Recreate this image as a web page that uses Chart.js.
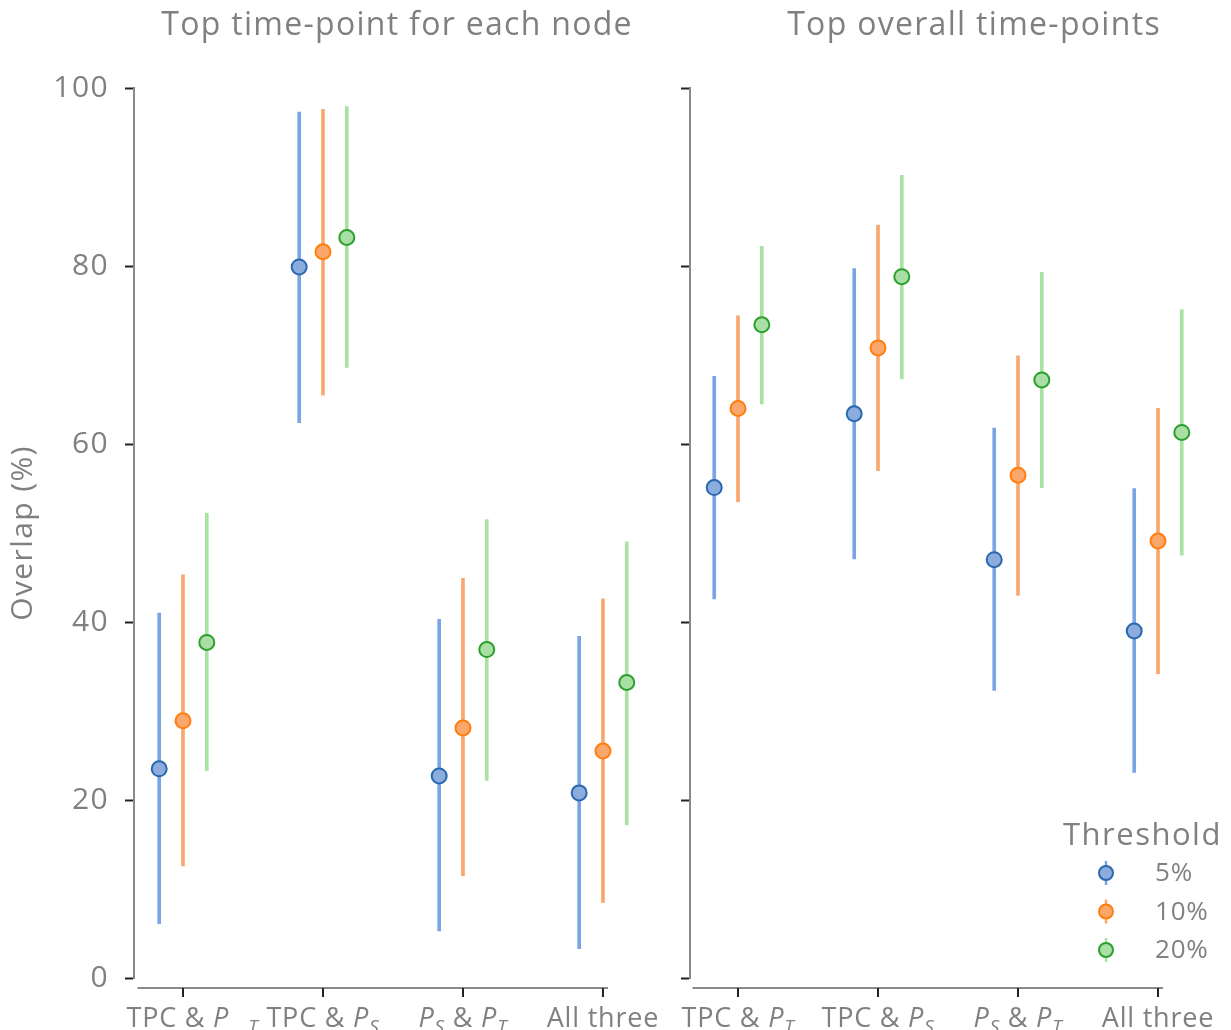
<!DOCTYPE html>
<html>
<head>
<meta charset="utf-8">
<script src="https://cdn.jsdelivr.net/npm/chart.js@4.4.1/dist/chart.umd.min.js"></script>
<style>
  html, body { margin: 0; padding: 0; background: #fff; }
  #wrap { position: relative; width: 1231px; height: 1030px; overflow: hidden; }
  canvas { position: absolute; top: 0; }
  #chartLeft { left: 0; }
  #chartRight { left: 660px; }
</style>
</head>
<body>
<div id="wrap">
  <canvas id="chartLeft" width="660" height="1030"></canvas>
  <canvas id="chartRight" width="571" height="1030"></canvas>
</div>
<script>
// categories ($..$ = math: italic letters, _X = subscript)
const categories = ['TPC & $P_T$', 'TPC & $P_S$', '$P_S$ & $P_T$', 'All three'];
const thresholds = ['5%', '10%', '20%'];

// Top time-point for each node
const leftMean5  = [23.5, 79.9, 22.7, 20.8];
const leftLow5   = [6.1, 62.4, 5.3, 3.3];
const leftHigh5  = [41.0, 97.3, 40.3, 38.4];
const leftMean10 = [28.9, 81.6, 28.1, 25.5];
const leftLow10  = [12.6, 65.5, 11.5, 8.5];
const leftHigh10 = [45.3, 97.6, 44.9, 42.6];
const leftMean20 = [37.7, 83.2, 36.9, 33.2];
const leftLow20  = [23.3, 68.6, 22.2, 17.2];
const leftHigh20 = [52.2, 97.9, 51.5, 49.0];

// Top overall time-points
const rightMean5  = [55.1, 63.4, 47.0, 39.0];
const rightLow5   = [42.6, 47.1, 32.3, 23.1];
const rightHigh5  = [67.6, 79.7, 61.8, 55.0];
const rightMean10 = [64.0, 70.8, 56.5, 49.1];
const rightLow10  = [53.5, 57.0, 43.0, 34.2];
const rightHigh10 = [74.4, 84.6, 69.9, 64.0];
const rightMean20 = [73.4, 78.8, 67.2, 61.3];
const rightLow20  = [64.5, 67.3, 55.1, 47.5];
const rightHigh20 = [82.2, 90.2, 79.3, 75.1];

const FONT = '"Open Sans", sans-serif';
const GREY = '#808080';
const dodge = [-0.17, 0, 0.17];
const lineColors = ['#7aa5e3', '#f9a76f', '#a9e3a4'];
const fillColors = ['#8cacde', '#fba66a', '#a9dea4'];
const edgeColors = ['#2a68b0', '#ff7f0e', '#2ca02c'];

// split "TPC & $P_T$" into styled pieces
function parseLabel(s) {
  const parts = [];
  let math = false;
  for (let i = 0; i < s.length; i++) {
    const c = s[i];
    if (c === '$') { math = !math; continue; }
    if (math && c === '_') { parts.push({ t: s[++i], it: true, sub: true }); continue; }
    const last = parts[parts.length - 1];
    if (last && !last.sub && last.it === math) last.t += c;
    else parts.push({ t: c, it: math, sub: false });
  }
  return parts;
}

function drawMathLabel(ctx, text, cx, baseline, size, subShift) {
  const parts = parseLabel(text);
  const fontOf = p => p.sub ? `italic ${Math.round(size * 0.72)}px ${FONT}` :
    (p.it ? `italic ${size}px ${FONT}` : `${size}px ${FONT}`);
  let total = 0;
  parts.forEach(p => { ctx.font = fontOf(p); p.w = ctx.measureText(p.t).width; total += p.w; });
  let x = cx - total / 2;
  ctx.textAlign = 'left';
  ctx.textBaseline = 'alphabetic';
  parts.forEach(p => {
    ctx.font = fontOf(p);
    ctx.fillText(p.t, x + (p.sub ? subShift : 0), baseline + (p.sub ? size * 0.22 : 0));
    x += p.w;
  });
}

// wider letter spacing for every text drawn on the canvas
const spacing = {
  id: 'spacing',
  beforeLayout(chart) { chart.ctx.letterSpacing = '1.4px'; },
  beforeDraw(chart) { chart.ctx.letterSpacing = '1.4px'; }
};

// trimmed x spine, tick marks, math tick labels and panel title
const panelDecor = {
  id: 'panelDecor',
  afterDraw(chart, args, opts) {
    const { ctx, chartArea, scales: { x } } = chart;
    const y0 = chartArea.bottom + 10;
    ctx.save();
    ctx.strokeStyle = '#8a8a8a';
    ctx.lineWidth = 2;
    ctx.beginPath();
    ctx.moveTo(x.getPixelForValue(-0.325), y0);
    ctx.lineTo(x.getPixelForValue(3.036), y0);
    ctx.stroke();
    ctx.fillStyle = GREY;
    ctx.letterSpacing = '0.8px';
    categories.forEach((c, i) => {
      const px = x.getPixelForValue(i);
      ctx.strokeStyle = '#222';
      ctx.beginPath();
      ctx.moveTo(px, y0);
      ctx.lineTo(px, y0 + 9);
      ctx.stroke();
      drawMathLabel(ctx, c, px, y0 + 39, 27, (opts.subShift || [])[i] || 0);
    });
    ctx.letterSpacing = '1.3px';
    ctx.font = `32px ${FONT}`;
    ctx.textAlign = 'center';
    ctx.textBaseline = 'alphabetic';
    ctx.fillText(opts.title, x.getPixelForValue(opts.titleAt), 35);
    ctx.restore();
  }
};

const thresholdLegend = {
  id: 'thresholdLegend',
  afterDraw(chart, args, opts) {
    if (!opts.display) return;
    const { ctx, chartArea } = chart;
    const pts = chart.data.datasets.filter(d => d.type === 'scatter');
    const x0 = chartArea.left + opts.dx;
    const y0 = chartArea.bottom + opts.dy;
    ctx.save();
    ctx.fillStyle = GREY;
    ctx.letterSpacing = '1.5px';
    ctx.font = `31px ${FONT}`;
    ctx.textAlign = 'left';
    ctx.textBaseline = 'alphabetic';
    ctx.fillText(opts.title, x0, y0);
    pts.forEach((d, k) => {
      const cx = x0 + 43, cy = y0 + 28 + k * 38.5;
      ctx.strokeStyle = lineColors[k];
      ctx.lineWidth = 2.5;
      ctx.beginPath();
      ctx.moveTo(cx, cy - 12);
      ctx.lineTo(cx, cy + 12);
      ctx.stroke();
      ctx.beginPath();
      ctx.arc(cx, cy, 7, 0, Math.PI * 2);
      ctx.fillStyle = d.pointBackgroundColor;
      ctx.fill();
      ctx.strokeStyle = d.borderColor;
      ctx.lineWidth = 2;
      ctx.stroke();
      ctx.fillStyle = GREY;
      ctx.letterSpacing = '0.8px';
      ctx.font = `26px ${FONT}`;
      ctx.textBaseline = 'middle';
      ctx.fillText(d.label, x0 + 92, cy + 1);
      ctx.textBaseline = 'alphabetic';
    });
    ctx.restore();
  }
};

function buildDatasets(means, lows, highs) {
  const sets = [];
  thresholds.forEach((t, k) => {
    sets.push({
      type: 'bar',
      label: t + ' interval',
      data: categories.map((c, i) => ({ x: i + dodge[k], y: [lows[k][i], highs[k][i]] })),
      backgroundColor: lineColors[k],
      borderWidth: 0,
      barThickness: 3,
      maxBarThickness: 3,
      grouped: false,
      order: 2
    });
  });
  thresholds.forEach((t, k) => {
    sets.push({
      type: 'scatter',
      label: t,
      data: categories.map((c, i) => ({ x: i + dodge[k], y: means[k][i] })),
      pointRadius: 7.5,
      pointBorderWidth: 2,
      pointBackgroundColor: fillColors[k],
      borderColor: edgeColors[k],
      backgroundColor: fillColors[k],
      showLine: false,
      order: 1
    });
  });
  return sets;
}

function makePanel(id, cfg) {
  return new Chart(document.getElementById(id), {
    type: 'scatter',
    data: { datasets: buildDatasets(cfg.means, cfg.lows, cfg.highs) },
    options: {
      responsive: false,
      animation: false,
      layout: { padding: { top: 88, bottom: 52, left: 0, right: cfg.padRight } },
      plugins: {
        legend: { display: false },
        tooltip: { enabled: false },
        title: { display: false },
        panelDecor: { title: cfg.title, titleAt: cfg.titleAt, subShift: cfg.subShift },
        thresholdLegend: { display: cfg.legend, title: 'Threshold', dx: 373, dy: -133 }
      },
      scales: {
        x: { type: 'linear', min: cfg.xMin, max: cfg.xMax, offset: false, display: false },
        y: {
          min: 0, max: 100,
          afterFit(s) { s.width = cfg.yWidth; },
          ticks: {
            stepSize: 20,
            color: GREY,
            padding: 16,
            font: { family: FONT, size: 30 },
            callback: v => cfg.yLabels ? v : ''
          },
          grid: { display: true, drawOnChartArea: false, drawTicks: true, tickLength: 9, tickColor: '#222', tickWidth: 2 },
          border: { display: true, color: '#8a8a8a', width: 2 },
          title: {
            display: cfg.yLabels,
            text: 'Overlap (%)',
            color: GREY,
            font: { family: FONT, size: 30 },
            padding: { top: 5, bottom: 0 }
          }
        }
      }
    },
    plugins: [spacing, panelDecor, thresholdLegend]
  });
}

makePanel('chartLeft', {
  title: 'Top time-point for each node',
  titleAt: 1.529,
  means: [leftMean5, leftMean10, leftMean20],
  lows: [leftLow5, leftLow10, leftLow20],
  highs: [leftHigh5, leftHigh10, leftHigh20],
  xMin: -0.35, xMax: 3.336,
  yWidth: 134, padRight: 10, yLabels: true, legend: false,
  subShift: [19, 0, 0, 0]
});

makePanel('chartRight', {
  title: 'Top overall time-points',
  titleAt: 1.686,
  means: [rightMean5, rightMean10, rightMean20],
  lows: [rightLow5, rightLow10, rightLow20],
  highs: [rightHigh5, rightHigh10, rightHigh20],
  xMin: -0.343, xMax: 3.450,
  yWidth: 30, padRight: 10, yLabels: false, legend: true
});
</script>
</body>
</html>
